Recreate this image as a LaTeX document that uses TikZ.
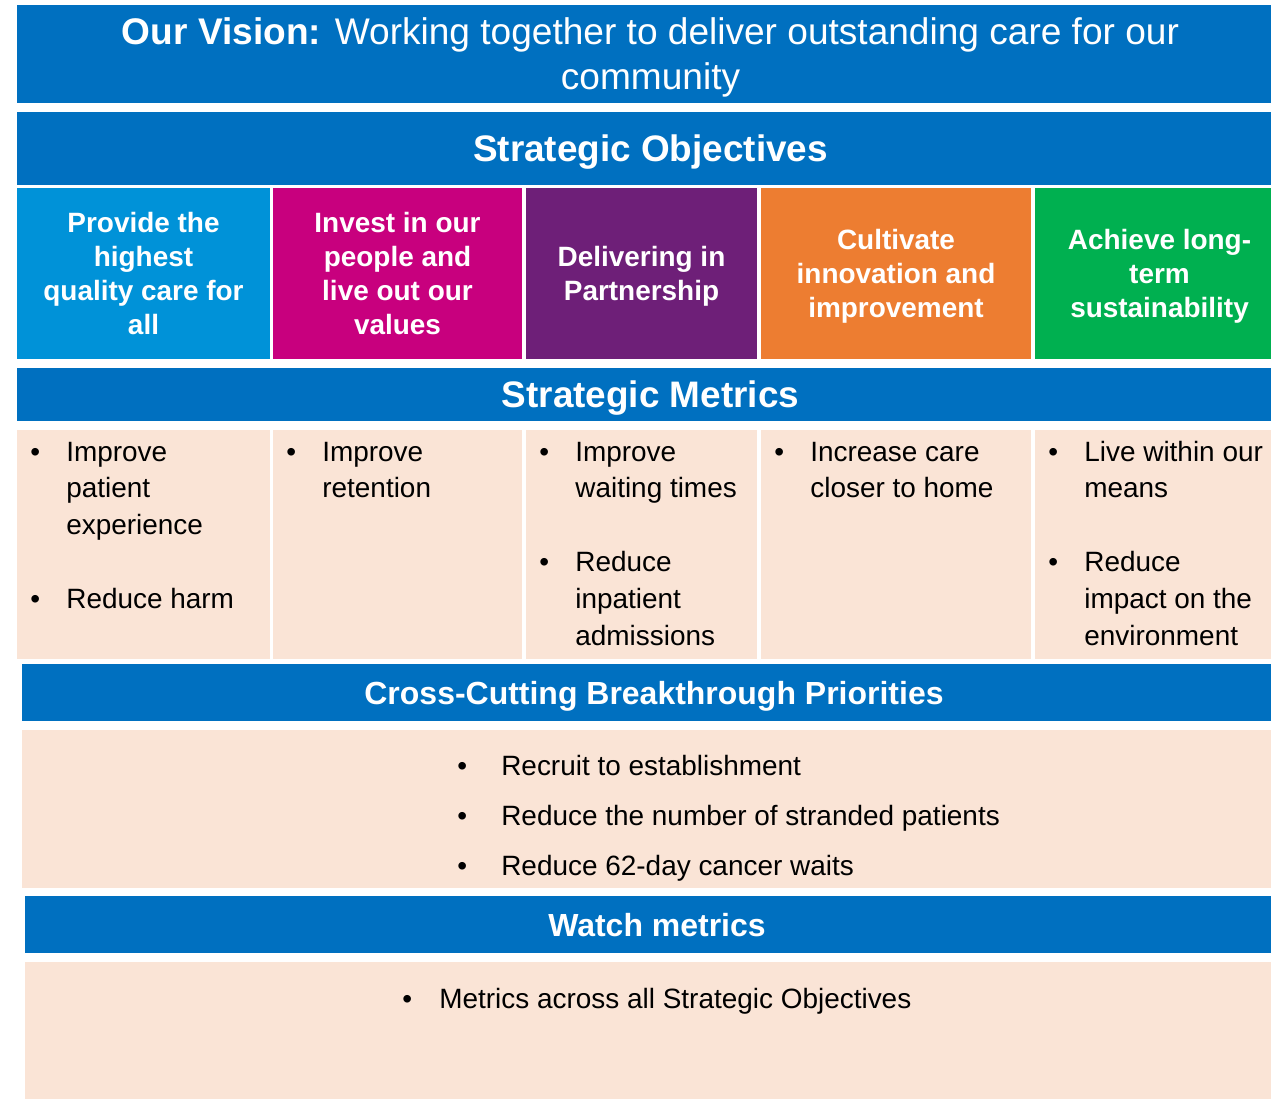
\documentclass[tikz,border=0pt]{standalone}
\usepackage{fontspec}
\setmainfont{Liberation Sans}
\usetikzlibrary{positioning}
\definecolor{nhsblue}{RGB}{0,112,192}
\definecolor{objblue}{RGB}{0,146,216}
\definecolor{objpink}{RGB}{200,0,126}
\definecolor{objpurple}{RGB}{110,31,120}
\definecolor{objorange}{RGB}{237,125,49}
\definecolor{objgreen}{RGB}{0,176,80}
\definecolor{peach}{RGB}{250,228,214}
\newcommand{\px}{0.02cm}
\newcommand{\blist}[2]{\begin{tabular}[t]{@{}p{#1}@{}l@{}}#2\end{tabular}}
\tikzset{box/.style={
    rectangle,
    inner sep=0pt,
    outer sep=0pt
  },
  cell/.style n args={4}{box,
    minimum width={(#3-#1)*\px},
    minimum height={(#4-#2)*\px},
    at={({(#1+#3)/2},{(#2+#4)/2})}},
  headbox/.style={fill=nhsblue,text=white,text depth=0pt,
    font=\bfseries\fontsize{21}{25}\selectfont},
  subhead/.style={headbox,font=\bfseries\fontsize{18.2}{22}\selectfont},
  objbox/.style={text=white,align=center,text depth=-1pt,
    font=\bfseries\fontsize{15.9}{19.3}\selectfont},
  metbox/.style={fill=peach},
  mettext/.style={anchor=base west,inner sep=0pt,
    font=\fontsize{15.9}{21}\selectfont},
  crosstext/.style={mettext,font=\fontsize{15.9}{28.6}\selectfont},
}

\begin{document}
\begin{tikzpicture}[x=0.02cm,y=-0.02cm]
  \useasboundingbox (0,0) rectangle (1271,1100);
  % vision and objectives
  \node [cell={17}{5}{1284}{103},headbox,align=center,text depth=-6pt,
    font=\fontsize{21.1}{25.6}\selectfont] (vision)
    {\textbf{Our Vision:} Working together to deliver outstanding care for our\\community};
  \node [cell={17}{112}{1284}{185},headbox] (objhead) {Strategic Objectives};
  \node [cell={17}{188}{270}{359},objbox,fill=objblue] (obj1)
    {Provide the\\highest\\quality care for\\all};
  \node [cell={273}{188}{522}{359},objbox,fill=objpink] (obj2)
    {Invest in our\\people and\\live out our\\values};
  \node [cell={526}{188}{757}{359},objbox,fill=objpurple] (obj3)
    {Delivering in\\Partnership};
  \node [cell={761}{188}{1031}{359},objbox,fill=objorange] (obj4)
    {Cultivate\\innovation and\\improvement};
  \node [cell={1035}{188}{1284}{359},objbox,fill=objgreen] (obj5)
    {Achieve long-\\term\\sustainability};
  % metrics
  \node [cell={17}{368}{1284}{421},headbox,text depth=-2pt] (methead) {Strategic Metrics};
  \node [cell={17}{430}{270}{659},metbox] (met1) {};
  \node [cell={273}{430}{522}{659},metbox] (met2) {};
  \node [cell={526}{430}{757}{659},metbox] (met3) {};
  \node [cell={761}{430}{1031}{659},metbox] (met4) {};
  \node [cell={1035}{430}{1284}{659},metbox] (met5) {};
  \node [mettext] (met1txt) at (30,461) {\blist{0.72cm}{%
    \textbullet & Improve\\ & patient\\ & experience\\ & \\ \textbullet & Reduce harm}};
  \node [mettext] (met2txt) at (286,461) {\blist{0.72cm}{%
    \textbullet & Improve\\ & retention}};
  \node [mettext] (met3txt) at (539,461) {\blist{0.72cm}{%
    \textbullet & Improve\\ & waiting times\\ & \\ \textbullet & Reduce\\ & inpatient\\ & admissions}};
  \node [mettext] (met4txt) at (774,461) {\blist{0.72cm}{%
    \textbullet & Increase care\\ & closer to home}};
  \node [mettext] (met5txt) at (1048,461) {\blist{0.72cm}{%
    \textbullet & Live within our\\ & means\\ & \\ \textbullet & Reduce\\ & impact on the\\ & environment}};
  % priorities
  \node [cell={22}{664}{1286}{721},subhead] (crosshead)
    {Cross-Cutting Breakthrough Priorities};
  \node [cell={22}{730}{1286}{888},metbox] (cross) {};
  \node [crosstext] (crosstxt) at (457,775) {\blist{0.88cm}{%
    \textbullet & Recruit to establishment\\
    \textbullet & Reduce the number of stranded patients\\
    \textbullet & Reduce 62-day cancer waits}};
  % watch
  \node [cell={25}{896}{1289}{953},subhead] (watchhead) {Watch metrics};
  \node [cell={25}{962}{1289}{1099},metbox] (watch) {};
  \node [mettext] (watchtxt) at (402,1008) {\blist{0.74cm}{%
    \textbullet & Metrics across all Strategic Objectives}};
\end{tikzpicture}
\end{document}
